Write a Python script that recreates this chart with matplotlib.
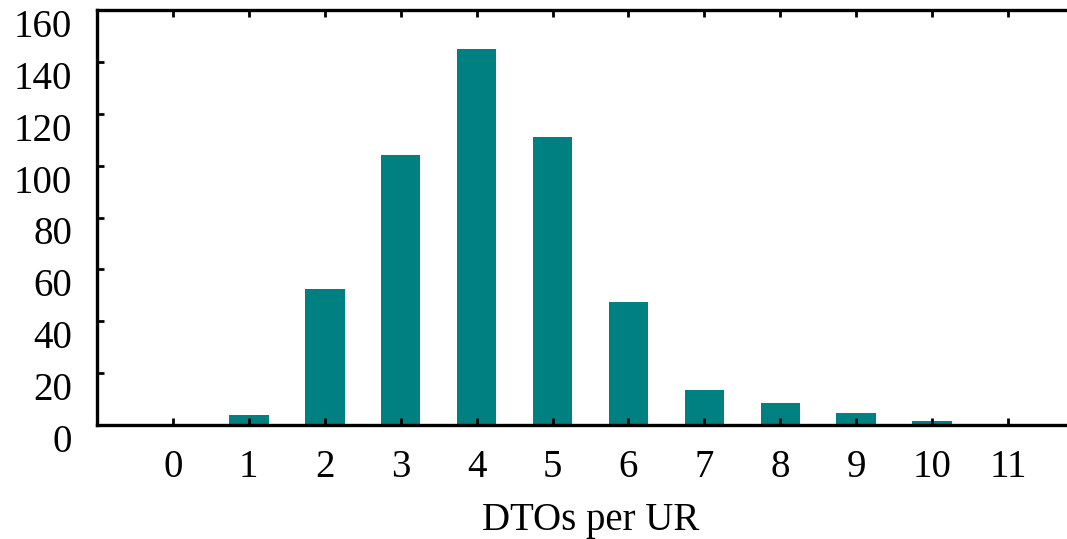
import numpy as np
import matplotlib.pyplot as plt
import matplotlib.transforms as mtransforms

# DTOs per UR histogram
dtos = [0, 1, 2, 3, 4, 5, 6, 7, 8, 9, 10, 11]
counts = [0.5, 4, 52.5, 104, 145, 111, 47.5, 13.5, 8.5, 4.5, 1.5, 0.5]
yticks = [0, 20, 40, 60, 80, 100, 120, 140, 160]

plt.rcParams['font.family'] = ['Liberation Serif', 'DejaVu Serif']

fig = plt.figure(figsize=(10.67, 5.39), dpi=100)
ax = fig.add_axes([97 / 1067, 1 - 425 / 539, 987 / 1067, (425 - 10) / 539])

ax.bar(dtos, counts, width=0.52, color='#008080')

ax.set_xlim(-1, 12.0)
ax.set_ylim(0, 160)
ax.set_xticks(dtos)
ax.set_yticks(yticks)
ax.set_xlabel("DTOs per UR", fontsize=28, labelpad=12)

ax.spines['right'].set_visible(False)
for s in ['left', 'top', 'bottom']:
    ax.spines[s].set_linewidth(2.4)

ax.tick_params(axis='x', direction='in', top=True, length=5, width=2,
               labelsize=28, pad=17)
ax.tick_params(axis='y', direction='in', length=5, width=2,
               labelsize=28, pad=18)

# y labels sit a bit below their ticks in the original
offset = mtransforms.ScaledTranslation(0, -13 / 100, fig.dpi_scale_trans)
for lab in ax.get_yticklabels():
    lab.set_transform(lab.get_transform() + offset)

fig.savefig('out.png', dpi=100)
